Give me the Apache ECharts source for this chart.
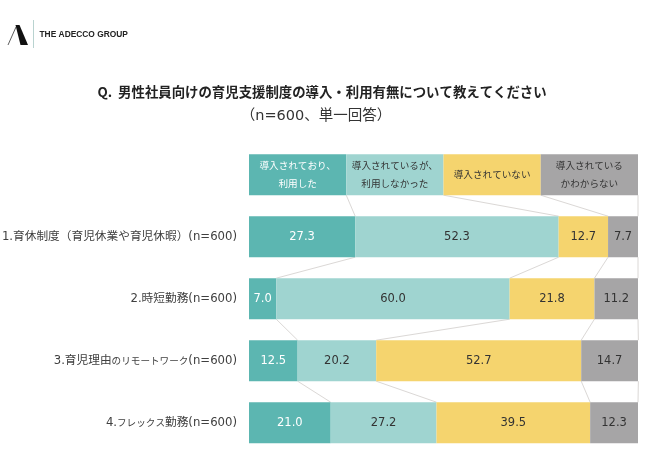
<!DOCTYPE html>
<html lang="ja">
<head>
<meta charset="UTF-8">
<title>Chart</title>
<script src="https://cdn.jsdelivr.net/npm/echarts@6/dist/echarts.min.js"></script>
<style>
  html, body { margin: 0; padding: 0; background: #fff; }
  #main { width: 650px; height: 468px; }
</style>
</head>
<body>
<div id="main"></div>
<script>
// first row is the legend strip, drawn as four equal cells
var categories = ['', '1.育休制度（育児休業や育児休暇）(n=600)', '2.時短勤務(n=600)', '3.育児理由のリモートワーク(n=600)', '4.フレックス勤務(n=600)'];
var answers = ['導入されており、\n利用した', '導入されているが、\n利用しなかった', '導入されていない', '導入されている\nかわからない'];
var headerCell = 25;
var usedValues = [27.3, 7.0, 12.5, 21.0];
var notUsedValues = [52.3, 60.0, 20.2, 27.2];
var noSystemValues = [12.7, 21.8, 52.7, 39.5];
var unknownValues = [7.7, 11.2, 14.7, 12.3];
var colors = ['#5cb6b1', '#9fd4d0', '#f5d46e', '#a6a5a6'];
var labelColors = ['#ffffff', '#333333', '#333333', '#333333'];

var BAR_H = 41;
var latin = '"DejaVu Sans", "Noto Sans CJK JP", sans-serif';
var jp = '"Noto Sans CJK JP", sans-serif';
var allValues = [usedValues, notUsedValues, noSystemValues, unknownValues];

var barSeries = allValues.map(function (vals, s) {
    return {
        type: 'bar',
        stack: 'total',
        barWidth: BAR_H,
        z: 3,
        silent: true,
        itemStyle: { color: colors[s] },
        data: [headerCell].concat(vals),
        label: {
            show: true,
            position: 'inside',
            color: labelColors[s],
            fontFamily: latin,
            fontSize: 11.5,
            formatter: function (p) {
                if (p.dataIndex === 0) {
                    return '{h|' + answers[s].split('\n').join('}\n{h|') + '}';
                }
                return p.value.toFixed(1);
            },
            rich: {
                h: { color: labelColors[s], fontFamily: jp, fontSize: 9.6, lineHeight: 18 }
            }
        }
    };
});

// connector lines: running totals of each row, joined to the next row
var totals = categories.map(function (c, row) {
    var sum = 0;
    return allValues.map(function (vals) {
        sum += row === 0 ? headerCell : vals[row - 1];
        return sum;
    });
});
var connectors = [];
for (var r = 0; r < totals.length - 1; r++) {
    for (var k = 0; k < 4; k++) {
        connectors.push([r, totals[r][k], totals[r + 1][k]]);
    }
}

var connectorSeries = {
    type: 'custom',
    z: 1,
    silent: true,
    clip: false,
    encode: { x: [1, 2], y: 0 },
    data: connectors,
    renderItem: function (params, api) {
        var row = api.value(0);
        var a = api.coord([api.value(1), row]);
        var b = api.coord([api.value(2), row + 1]);
        return {
            type: 'line',
            shape: { x1: a[0], y1: a[1] + BAR_H / 2, x2: b[0], y2: b[1] - BAR_H / 2 },
            style: { stroke: '#dbd8d6', lineWidth: 1 }
        };
    }
};

var myChart = echarts.init(document.getElementById('main'));
myChart.setOption({
    animation: false,
    backgroundColor: '#fff',
    title: [
        {
            text: 'Q.  男性社員向けの育児支援制度の導入・利用有無について教えてください',
            left: 317, top: 80, textAlign: 'center',
            textStyle: { fontFamily: jp, fontSize: 13.4, fontWeight: 'bold', color: '#222222' }
        },
        {
            text: '（n=600、単一回答）',
            left: 311, top: 104, textAlign: 'center',
            textStyle: { fontFamily: latin, fontSize: 14.5, fontWeight: 'normal', color: '#333333' }
        }
    ],
    graphic: [
        { type: 'polygon', shape: { points: [[15.5, 25], [19.5, 25], [28, 45], [20.5, 45]] }, style: { fill: '#111111' } },
        { type: 'line', shape: { x1: 16, y1: 27, x2: 8, y2: 45 }, style: { stroke: '#333333', lineWidth: 0.8 } },
        { type: 'line', shape: { x1: 33.5, y1: 20, x2: 33.5, y2: 48 }, style: { stroke: '#b9d3d0', lineWidth: 1 } },
        { type: 'text', style: { text: 'THE ADECCO GROUP', x: 39.5, y: 31, fill: '#222222', font: 'bold 8.4px "Liberation Sans", sans-serif' } }
    ],
    grid: { left: 249, width: 389, top: 143.7, height: 310, outerBoundsMode: 'none' },
    xAxis: { type: 'value', min: 0, max: 100, show: false },
    yAxis: {
        type: 'category',
        inverse: true,
        data: categories,
        axisLine: { show: false },
        axisTick: { show: false },
        splitLine: { show: false },
        axisLabel: {
            margin: 12,
            interval: 0,
            color: '#404040',
            fontFamily: latin,
            fontSize: 11.7,
            // kana runs are set tighter in the reference
            formatter: function (v) {
                return v.replace(/[ぁ-んァ-ヶー]{2,}/g, function (m) { return '{k|' + m + '}'; });
            },
            rich: {
                k: { color: '#404040', fontFamily: jp, fontSize: 9.6 }
            }
        }
    },
    series: [connectorSeries].concat(barSeries)
});
</script>
</body>
</html>
